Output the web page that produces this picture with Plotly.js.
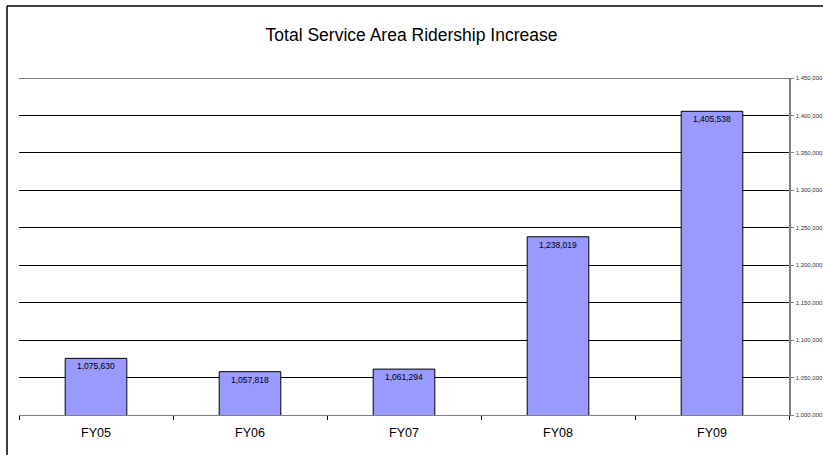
<!DOCTYPE html>
<html>
<head>
<meta charset="utf-8">
<script src="https://cdn.plot.ly/plotly-3.0.1.min.js"></script>
<style>html,body{margin:0;padding:0;background:#fff;}#chart{width:823px;height:455px;}</style>
</head>
<body>
<div id="chart"></div>
<script>
const categories = ["FY05", "FY06", "FY07", "FY08", "FY09"];
const ridership = [1075630, 1057818, 1061294, 1238019, 1405538];
const yTicks = [1000000, 1050000, 1100000, 1150000, 1200000, 1250000, 1300000, 1350000, 1400000, 1450000];

const fmt = v => v.toLocaleString('en-US');

const trace = {
  type: 'bar',
  x: categories,
  y: ridership,
  text: ridership.map(fmt),
  textposition: 'inside',
  insidetextanchor: 'end',
  textangle: 0,
  textfont: {family: 'Liberation Sans, Arial, sans-serif', size: 8.5, color: '#000'},
  marker: {color: '#9999FF', line: {color: '#000', width: 1}},
  hoverinfo: 'none',
  cliponaxis: false
};

const L = 19, R = 789, T = 78, B = 415;
const px = x => (x - L) / (R - L);
const py = y => (B - y) / (B - T);

const layout = {
  width: 823, height: 455,
  margin: {l: L, r: 823 - R, t: T, b: 455 - B, pad: 0},
  paper_bgcolor: '#fff', plot_bgcolor: '#fff',
  showlegend: false,
  bargap: 0.6,
  font: {family: 'Liberation Sans, Arial, sans-serif', color: '#000'},
  title: {text: 'Total Service Area Ridership Increase', x: 0.5, xanchor: 'center', y: 1 - 35/455, yanchor: 'middle',
          font: {size: 17.5, family: 'Liberation Sans, Arial, sans-serif', color: '#000'}},
  xaxis: {
    type: 'category',
    showline: true, linecolor: '#808080', linewidth: 1,
    ticks: 'outside', tickson: 'boundaries', ticklen: 4, tickcolor: '#000', tickwidth: 1,
    tickfont: {size: 12.5, color: '#000'},
    ticklabelstandoff: 6,
    showgrid: false, zeroline: false
  },
  yaxis: {
    side: 'right',
    range: [1000000, 1450000],
    tickvals: yTicks,
    ticktext: yTicks.map(fmt),
    showline: true, linecolor: '#808080', linewidth: 1.5,
    ticks: 'outside', ticklen: 3, tickcolor: '#808080',
    tickfont: {size: 6, color: '#333'},
    ticklabelstandoff: 1,
    showgrid: true, gridcolor: '#000', gridwidth: 1,
    zeroline: false
  },
  shapes: [
    {type: 'line', xref: 'paper', yref: 'y', x0: 0, x1: 1, y0: yTicks[yTicks.length - 1], y1: yTicks[yTicks.length - 1], line: {color: '#000', width: 1}, layer: 'below'},
    {type: 'line', xref: 'paper', yref: 'paper', x0: px(7), x1: px(823), y0: py(6), y1: py(6), line: {color: '#000', width: 1.5}},
    {type: 'line', xref: 'paper', yref: 'paper', x0: px(7), x1: px(7), y0: py(6), y1: py(455), line: {color: '#000', width: 1.5}}
  ]
};

Plotly.newPlot('chart', [trace], layout, {staticPlot: true, displayModeBar: false});
</script>
</body>
</html>
